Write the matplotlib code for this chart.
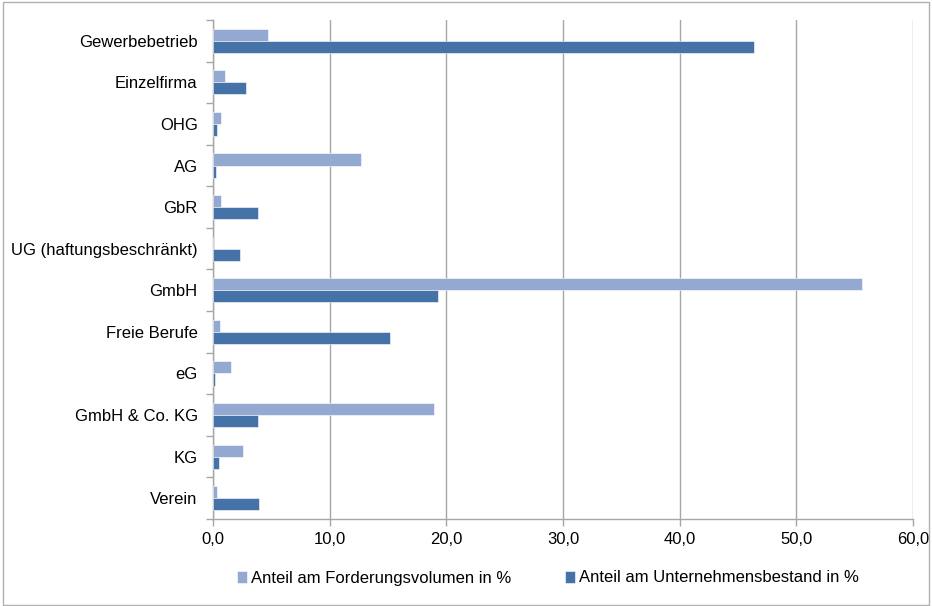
import matplotlib
matplotlib.use("Agg")
import matplotlib.pyplot as plt
import numpy as np
from matplotlib.patches import Rectangle
from matplotlib.ticker import FuncFormatter, FixedLocator

plt.rcParams['font.family'] = ['Liberation Sans', 'DejaVu Sans']

categories = ['Gewerbebetrieb', 'Einzelfirma', 'OHG', 'AG', 'GbR',
              'UG (haftungsbeschränkt)', 'GmbH', 'Freie Berufe', 'eG',
              'GmbH & Co. KG', 'KG', 'Verein']
forderungsvolumen = [4.7, 1.0, 0.7, 12.7, 0.7, 0.02, 55.6, 0.6, 1.5, 18.9, 2.55, 0.37]
unternehmensbestand = [46.4, 2.8, 0.37, 0.26, 3.86, 2.3, 19.3, 15.2, 0.15, 3.86, 0.52, 3.94]
label_light = 'Anteil am Forderungsvolumen in %'
label_dark = 'Anteil am Unternehmensbestand in %'

c_light = '#93A9D1'
c_dark = '#4572A7'
grid_c = '#A6A6A6'
fs = 12

fig = plt.figure(figsize=(9.32, 6.06), dpi=100)
ax = fig.add_axes([213 / 932, 1 - 519 / 606, 700 / 932, 499 / 606])

y = np.arange(len(categories))
h = 0.29
ax.barh(y - h / 2, forderungsvolumen, height=h, color=c_light, edgecolor='white',
        linewidth=0.4, label=label_light, zorder=3)
ax.barh(y + h / 2, unternehmensbestand, height=h, color=c_dark, edgecolor='white',
        linewidth=0.4, label=label_dark, zorder=3)

ax.set_xlim(0, 60)
ax.set_ylim(len(categories) - 0.5, -0.5)
ax.set_xticks(np.arange(0, 61, 10))
ax.xaxis.set_major_formatter(FuncFormatter(lambda v, p: f'{v:.1f}'.replace('.', ',')))
ax.set_yticks(y)
ax.set_yticklabels(categories)
ax.yaxis.set_minor_locator(FixedLocator(np.arange(-0.5, len(categories), 1)))
ax.tick_params(axis='y', which='major', length=0, pad=11, labelsize=fs, colors='black')
ax.tick_params(axis='y', which='minor', length=5, color=grid_c, width=1)
ax.tick_params(axis='x', length=5, color=grid_c, width=1, pad=4, labelsize=fs)
ax.grid(axis='x', color=grid_c, linewidth=1, zorder=0)

for s in ['top', 'right']:
    ax.spines[s].set_visible(False)
for s in ['left', 'bottom']:
    ax.spines[s].set_color(grid_c)
    ax.spines[s].set_linewidth(1)

fig.legend(loc='center', bbox_to_anchor=(548 / 932, 1 - 578 / 606), ncol=2,
           frameon=False, fontsize=fs, handlelength=0.6, handleheight=0.7,
           handletextpad=0.25, columnspacing=3.2)

fig.patches.append(Rectangle((3 / 932, 1 / 606), 926 / 932, 603 / 606,
                             transform=fig.transFigure, fill=False,
                             edgecolor='#B0B0B0', linewidth=1))

fig.savefig('out.png', dpi=100)
